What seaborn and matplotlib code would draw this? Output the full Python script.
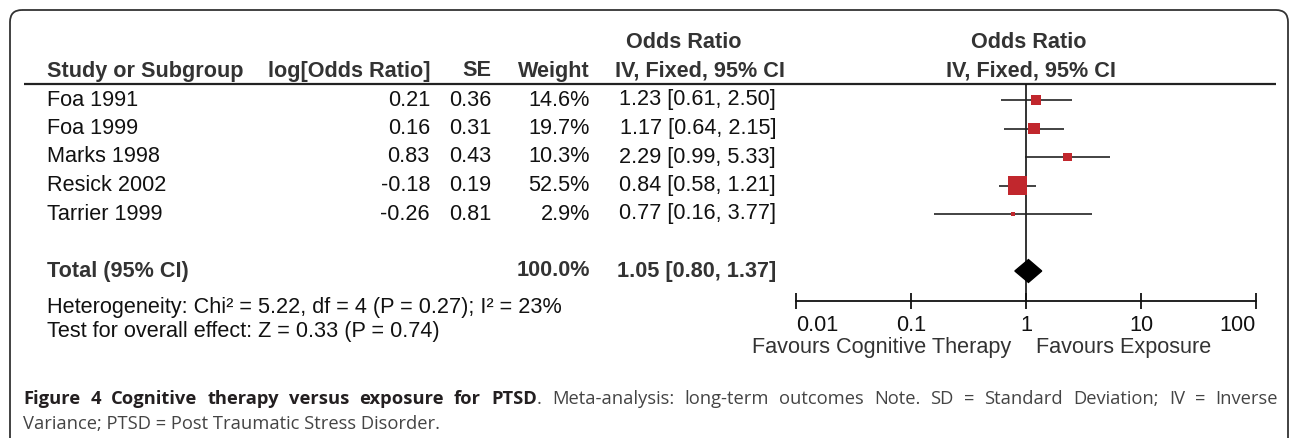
import matplotlib
matplotlib.use("Agg")
import matplotlib.pyplot as plt
import seaborn as sns
import pandas as pd
from matplotlib.patches import FancyBboxPatch
from matplotlib.ticker import FixedLocator, FixedFormatter, NullLocator

# ---------------- data ----------------
studies = ["Foa 1991", "Foa 1999", "Marks 1998", "Resick 2002", "Tarrier 1999"]
log_or = [0.21, 0.16, 0.83, -0.18, -0.26]
se = [0.36, 0.31, 0.43, 0.19, 0.81]
weight = [14.6, 19.7, 10.3, 52.5, 2.9]
or_est = [1.23, 1.17, 2.29, 0.84, 0.77]
or_lo = [0.61, 0.64, 0.99, 0.58, 0.16]
or_hi = [2.50, 2.15, 5.33, 1.21, 3.77]
total_label = "Total (95% CI)"
total_weight = 100.0
total_est, total_lo, total_hi = 1.05, 0.80, 1.37
tick_values = [0.01, 0.1, 1, 10, 100]
tick_labels = ["0.01", "0.1", "1", "10", "100"]
het_text = "Heterogeneity: Chi² = 5.22, df = 4 (P = 0.27); I² = 23%"
test_text = "Test for overall effect: Z = 0.33 (P = 0.74)"
favours_left = "Favours Cognitive Therapy"
favours_right = "Favours Exposure"
caption_bold = "Figure 4 Cognitive therapy versus exposure for PTSD"
caption_dot = "."
caption_rest = "Meta-analysis: long-term outcomes Note. SD = Standard Deviation; IV = Inverse"
caption_line2 = "Variance; PTSD = Post Traumatic Stress Disorder."

# ---------------- setup ----------------
sns.set_theme(style="white")
plt.rcParams["font.family"] = ["Liberation Sans", "DejaVu Sans"]

W, H = 1292, 438
fig = plt.figure(figsize=(W / 100, H / 100), dpi=100)
fig.patch.set_facecolor("white")

ax0 = fig.add_axes([0, 0, 1, 1])
ax0.set_xlim(0, W)
ax0.set_ylim(H, 0)
ax0.axis("off")

FS = 15.6
HEAD = "#333333"
TXT = "#111111"

# frame
box = FancyBboxPatch((10, 10), 1278, 500, boxstyle="round,pad=0,rounding_size=12",
                     fill=False, edgecolor="#333333", lw=1.3)
ax0.add_patch(box)

# headers
ax0.text(684, 43, "Odds Ratio", ha="center", va="center", fontsize=FS, weight="bold", color=HEAD)
ax0.text(1029, 43, "Odds Ratio", ha="center", va="center", fontsize=FS, weight="bold", color=HEAD)
ax0.text(47, 71, "Study or Subgroup", ha="left", va="center", fontsize=FS, weight="bold", color=HEAD)
ax0.text(430, 71, "log[Odds Ratio]", ha="right", va="center", fontsize=FS, weight="bold", color=HEAD)
ax0.text(491, 71, "SE", ha="right", va="center", fontsize=FS, weight="bold", color=HEAD)
ax0.text(590, 71, "Weight", ha="right", va="center", fontsize=FS, weight="bold", color=HEAD)
ax0.text(700, 71, "IV, Fixed, 95% CI", ha="center", va="center", fontsize=FS, weight="bold", color=HEAD)
ax0.text(1031, 71, "IV, Fixed, 95% CI", ha="center", va="center", fontsize=FS, weight="bold", color=HEAD)
ax0.plot([24, 1276], [84, 84], color="#222222", lw=1.6, solid_capstyle="butt")

ROW0, DY = 100, 28.5
for i, name in enumerate(studies):
    y = ROW0 + i * DY
    ax0.text(47, y, name, ha="left", va="center", fontsize=FS, color=TXT)
    ax0.text(430, y, f"{log_or[i]:.2f}", ha="right", va="center", fontsize=FS, color=TXT)
    ax0.text(491, y, f"{se[i]:.2f}", ha="right", va="center", fontsize=FS, color=TXT)
    ax0.text(590, y, f"{weight[i]:.1f}%", ha="right", va="center", fontsize=FS, color=TXT)
    ax0.text(776, y, f"{or_est[i]:.2f} [{or_lo[i]:.2f}, {or_hi[i]:.2f}]", ha="right",
             va="center", fontsize=FS, color=TXT)

total_row = len(studies) + 1
yt = ROW0 + total_row * DY
ax0.text(47, yt, total_label, ha="left", va="center", fontsize=FS, weight="bold", color=HEAD)
ax0.text(590, yt, f"{total_weight:.1f}%", ha="right", va="center", fontsize=FS, weight="bold", color=HEAD)
ax0.text(776, yt, f"{total_est:.2f} [{total_lo:.2f}, {total_hi:.2f}]", ha="right", va="center",
         fontsize=FS, weight="bold", color=HEAD)
ax0.text(47, 307, het_text, ha="left", va="center", fontsize=FS, color=TXT)
ax0.text(47, 331, test_text, ha="left", va="center", fontsize=FS, color=TXT)
ax0.text(1011, 348, favours_left, ha="right", va="center", fontsize=FS, color=HEAD)
ax0.text(1036, 348, favours_right, ha="left", va="center", fontsize=FS, color=HEAD)

# ---------------- forest plot ----------------
x_left, x_right, y_top, y_bot = 796, 1256, 84, 301
axf = fig.add_axes([x_left / W, 1 - y_bot / H, (x_right - x_left) / W, (y_bot - y_top) / H])
axf.patch.set_visible(False)
axf.set_xscale("log")
axf.set_xlim(tick_values[0], tick_values[-1])
axf.set_ylim((y_bot - ROW0) / DY, (y_top - ROW0) / DY)

df = pd.DataFrame({"study": studies, "row": range(len(studies)), "or": or_est,
                   "lo": or_lo, "hi": or_hi, "weight": weight})
axf.axvline(1, color="#111111", lw=1.2, zorder=1)
axf.hlines(df["row"], df["lo"], df["hi"], color="#222222", lw=1.2, zorder=2)
sns.scatterplot(data=df, x="or", y="row", size="weight", sizes=(0, 357), size_norm=(0, 100),
                marker="s", color="#C1272D", edgecolor="none", legend=False, ax=axf, zorder=3)
hh = 0.4
axf.fill([total_lo, total_est, total_hi, total_est],
         [total_row, total_row - hh, total_row, total_row + hh], color="black", zorder=3)

for s in ["top", "left", "right"]:
    axf.spines[s].set_visible(False)
axf.spines["bottom"].set_color("#111111")
axf.spines["bottom"].set_linewidth(1.3)
axf.set_yticks([])
axf.set_xlabel("")
axf.set_ylabel("")
axf.xaxis.set_major_locator(FixedLocator(tick_values))
axf.xaxis.set_major_formatter(FixedFormatter(tick_labels))
axf.xaxis.set_minor_locator(NullLocator())
axf.tick_params(axis="x", direction="inout", length=12, width=1.3, color="#111111",
                labelsize=FS, labelcolor="#111111", pad=4, bottom=True)
tl = axf.get_xticklabels()
tl[0].set_horizontalalignment("left")
tl[-1].set_horizontalalignment("right")

# ---------------- caption (justified) ----------------
CF = ["Open Sans", "DejaVu Sans"]
CS = 13.2
CCOL_B = "#231F20"
CCOL = "#444444"
fig.canvas.draw()
rend = fig.canvas.get_renderer()

def text_w(s, wt):
    t = ax0.text(0, 0, s, fontsize=CS, family=CF, weight=wt)
    w = t.get_window_extent(rend).width
    t.remove()
    return w

words = [[(w, "bold")] for w in caption_bold.split()]
words[-1].append((caption_dot, "normal"))
words += [[(w, "normal")] for w in caption_rest.split()]
widths = [sum(text_w(s, wt) for s, wt in grp) for grp in words]
xl, xr = 23, 1278
gap = (xr - xl - sum(widths)) / (len(words) - 1)
x = xl
for grp, wd in zip(words, widths):
    xx = x
    for s, wt in grp:
        ax0.text(xx, 399, s, ha="left", va="center", fontsize=CS, family=CF, weight=wt,
                 color=CCOL_B if wt == "bold" else CCOL)
        xx += text_w(s, wt)
    x += wd + gap
ax0.text(xl, 424, caption_line2, ha="left", va="center", fontsize=CS, family=CF, color=CCOL)

fig.savefig("out.png", dpi=100, facecolor="white")
